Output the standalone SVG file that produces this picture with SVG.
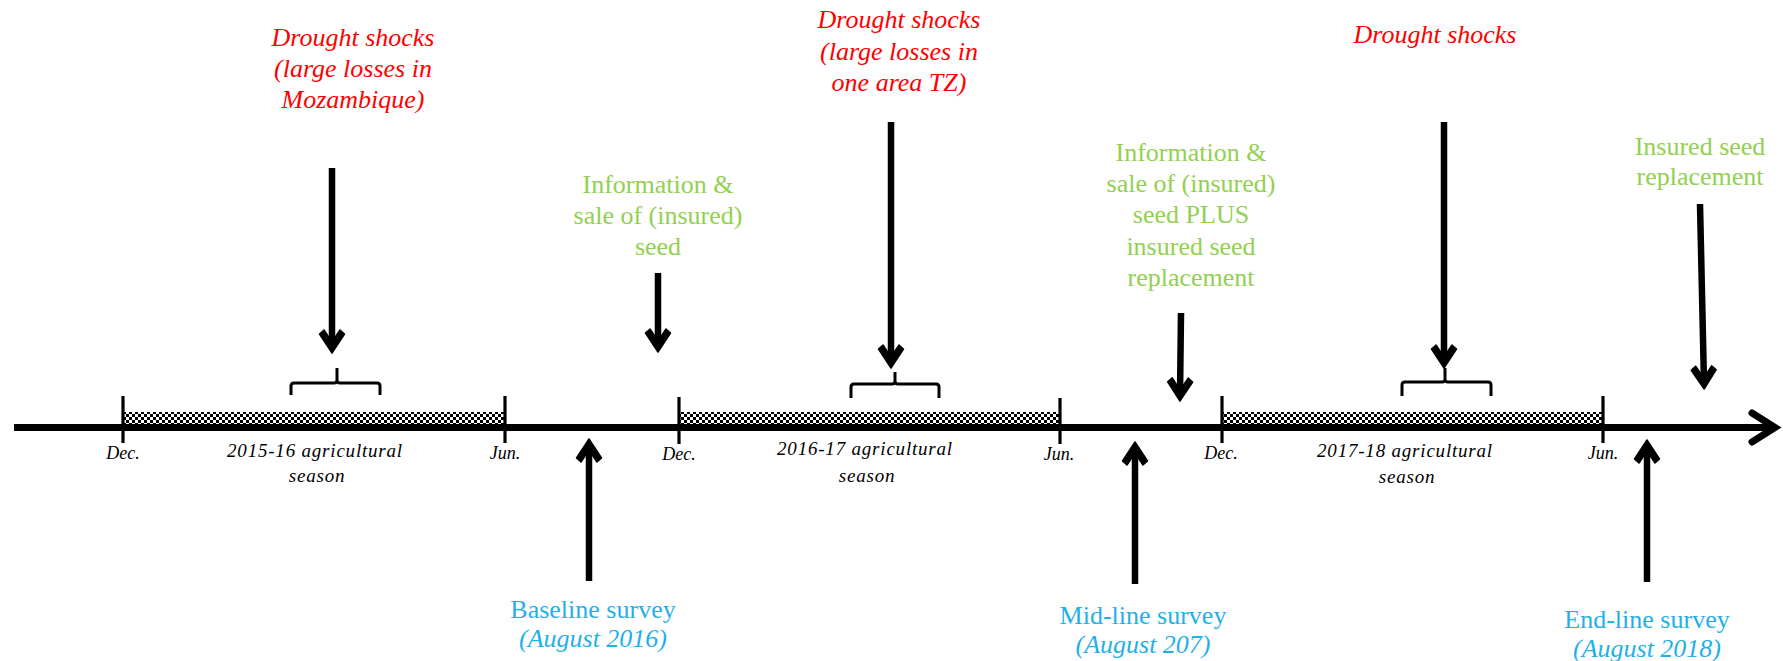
<svg xmlns="http://www.w3.org/2000/svg" width="1783" height="661" viewBox="0 0 1783 661">
  <style>
    .red { font-family: "Liberation Serif", "Times New Roman", serif; font-style: italic; font-size: 26px; fill: #ff0000; text-anchor: middle; }
    .grn { font-family: "Liberation Serif", "Times New Roman", serif; font-size: 26px; fill: #92d050; text-anchor: middle; }
    .blu { font-family: "Liberation Serif", "Times New Roman", serif; font-size: 26px; fill: #1fb0ea; text-anchor: middle; }
    .blu .it { font-style: italic; }
    .mon { font-family: "Liberation Serif", "Times New Roman", serif; font-style: italic; font-size: 18px; fill: #000; text-anchor: middle; }
    .sea { font-family: "Liberation Serif", "Times New Roman", serif; font-style: italic; font-size: 19px; letter-spacing: 0.8px; fill: #000; text-anchor: middle; }
    .arr { stroke: #000; stroke-width: 6.5; fill: none; marker-end: url(#head); }
    .tick { stroke: #000; stroke-width: 3.2; }
    .brace { stroke: #000; stroke-width: 3; fill: none; stroke-linejoin: round; }
    .band { fill: url(#checker); }
  </style>
  <defs>
    <pattern id="checker" patternUnits="userSpaceOnUse" width="6" height="6">
      <rect width="6" height="6" fill="#fff"/>
      <rect x="0" y="0" width="3" height="3" fill="#000"/>
      <rect x="3" y="3" width="3" height="3" fill="#000"/>
    </pattern>
    <marker id="head" markerUnits="userSpaceOnUse" viewBox="-26 -15 30 30" refX="-6" refY="0" markerWidth="30" markerHeight="30" orient="auto">
      <path d="M0,0 L-19,-12.5 L-23,-8 L-11,0 L-23,8 L-19,12.5 Z" fill="#000" stroke="#000" stroke-width="1.5" stroke-linejoin="round"/>
    </marker>
  </defs>

  <g id="timeline">
    <rect class="band" x="123" y="412" width="382" height="12"/>
    <rect class="band" x="679" y="412" width="381" height="12"/>
    <rect class="band" x="1222" y="412" width="381" height="12"/>
    <line x1="14" y1="427.5" x2="1772" y2="427.5" stroke="#000" stroke-width="7"/>
    <path d="M1752,413 L1775,427.5 L1752,442" fill="none" stroke="#000" stroke-width="7" stroke-linecap="round" stroke-linejoin="miter"/>
    <line class="tick" x1="123" y1="396" x2="123" y2="443"/>
    <line class="tick" x1="505" y1="396" x2="505" y2="443"/>
    <line class="tick" x1="679" y1="397" x2="679" y2="444"/>
    <line class="tick" x1="1060" y1="398" x2="1060" y2="444"/>
    <line class="tick" x1="1222" y1="396" x2="1222" y2="443"/>
    <line class="tick" x1="1603" y1="396" x2="1603" y2="443"/>
    <text class="mon" x="123" y="459">Dec.</text>
    <text class="mon" x="505" y="459">Jun.</text>
    <text class="mon" x="679" y="460">Dec.</text>
    <text class="mon" x="1059" y="460">Jun.</text>
    <text class="mon" x="1221" y="459">Dec.</text>
    <text class="mon" x="1603" y="459">Jun.</text>
  </g>

  <g id="season-2015-16">
    <path class="brace" d="M291,395 V386 Q291,383 294,383 H334 Q337,383 337,380 V368 M337,380 Q337,383 340,383 H377 Q380,383 380,386 V395"/>
    <text class="sea" x="315" y="457">2015-16 agricultural</text>
    <text class="sea" x="317" y="482">season</text>
  </g>
  <g id="season-2016-17">
    <path class="brace" d="M851,398 V387 Q851,384 854,384 H892 Q895,384 895,381 V372 M895,381 Q895,384 898,384 H936 Q939,384 939,387 V398"/>
    <text class="sea" x="865" y="455">2016-17 agricultural</text>
    <text class="sea" x="867" y="482">season</text>
  </g>
  <g id="season-2017-18">
    <path class="brace" d="M1402,396 V385 Q1402,382 1405,382 H1442 Q1445,382 1445,379 V368 M1445,379 Q1445,382 1448,382 H1488 Q1491,382 1491,385 V396"/>
    <text class="sea" x="1405" y="457">2017-18 agricultural</text>
    <text class="sea" x="1407" y="483">season</text>
  </g>

  <g id="drought-1">
    <text class="red" x="353" y="46">Drought shocks</text>
    <text class="red" x="353" y="77">(large losses in</text>
    <text class="red" x="353" y="108">Mozambique)</text>
  </g>
  <g id="drought-2">
    <text class="red" x="899" y="28">Drought shocks</text>
    <text class="red" x="899" y="59.5">(large losses in</text>
    <text class="red" x="899" y="91">one area TZ)</text>
  </g>
  <g id="drought-3">
    <text class="red" x="1435" y="43">Drought shocks</text>
  </g>

  <g id="info-1">
    <text class="grn" x="658" y="193">Information &amp;</text>
    <text class="grn" x="658" y="224">sale of (insured)</text>
    <text class="grn" x="658" y="255">seed</text>
  </g>
  <g id="info-2">
    <text class="grn" x="1191" y="161">Information &amp;</text>
    <text class="grn" x="1191" y="192">sale of (insured)</text>
    <text class="grn" x="1191" y="223">seed PLUS</text>
    <text class="grn" x="1191" y="255">insured seed</text>
    <text class="grn" x="1191" y="286">replacement</text>
  </g>
  <g id="insured-replacement">
    <text class="grn" x="1700" y="155">Insured seed</text>
    <text class="grn" x="1700" y="185">replacement</text>
  </g>

  <g id="baseline-survey">
    <text class="blu" x="593" y="618">Baseline survey</text>
    <text class="blu" x="593" y="647"><tspan class="it">(August 2016)</tspan></text>
  </g>
  <g id="midline-survey">
    <text class="blu" x="1143" y="624">Mid-line survey</text>
    <text class="blu" x="1143" y="653"><tspan class="it">(August 207)</tspan></text>
  </g>
  <g id="endline-survey">
    <text class="blu" x="1647" y="628">End-line survey</text>
    <text class="blu" x="1647" y="657"><tspan class="it">(August 2018)</tspan></text>
  </g>

  <g id="connectors">
    <line class="arr" x1="332" y1="168" x2="332" y2="347"/>
    <line class="arr" x1="891" y1="122" x2="891" y2="362"/>
    <line class="arr" x1="1444" y1="122" x2="1444" y2="362"/>
    <line class="arr" x1="658" y1="273" x2="658" y2="346"/>
    <line class="arr" x1="1181" y1="313" x2="1180" y2="395"/>
    <line class="arr" x1="1700" y1="204" x2="1704" y2="383"/>
    <line class="arr" x1="589" y1="581" x2="589" y2="445"/>
    <line class="arr" x1="1135" y1="584" x2="1135" y2="448"/>
    <line class="arr" x1="1647" y1="582" x2="1647" y2="446"/>
  </g>
</svg>
